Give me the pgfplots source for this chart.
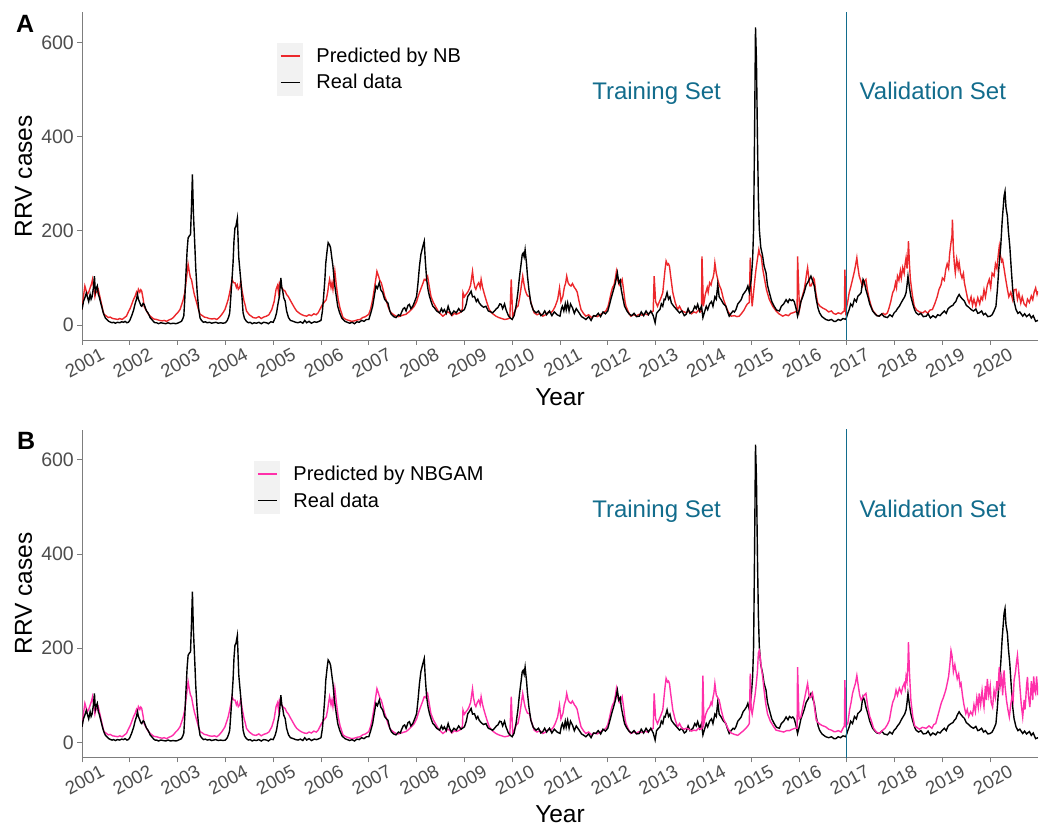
\documentclass[border=0pt]{standalone}
\usepackage{fontspec}
\setmainfont{Liberation Sans}
\usepackage{pgfplots}
\usepackage{pgfplotstable}
\pgfplotsset{compat=1.18}
\definecolor{nbred}{RGB}{236,40,44}
\definecolor{nbpink}{RGB}{255,48,170}
\definecolor{setcol}{RGB}{18,108,140}
\definecolor{axisgray}{RGB}{125,125,125}
\definecolor{ticktext}{RGB}{77,77,77}
\definecolor{keygray}{RGB}{242,242,242}

\pgfplotstableread{
x y
2001.00 33
2001.03 50
2001.06 58
2001.09 68
2001.11 61
2001.14 50
2001.17 65
2001.19 55
2001.21 60
2001.24 80
2001.26 104
2001.28 70
2001.30 78
2001.32 83
2001.34 66
2001.36 60
2001.39 48
2001.41 40
2001.44 28
2001.46 22
2001.49 15
2001.52 12
2001.56 8
2001.60 6
2001.63 5
2001.66 6
2001.70 4
2001.74 6
2001.79 5
2001.83 7
2001.87 6
2001.90 8
2001.94 5
2001.97 6
2002.00 10
2002.04 20
2002.08 32
2002.11 45
2002.14 55
2002.16 65
2002.18 55
2002.20 50
2002.23 42
2002.25 40
2002.28 46
2002.30 44
2002.33 35
2002.35 30
2002.38 26
2002.40 22
2002.43 15
2002.46 12
2002.50 7
2002.53 5
2002.56 5
2002.60 3
2002.65 5
2002.70 4
2002.75 3
2002.80 5
2002.85 3
2002.91 4
2002.96 3
2003.00 4
2003.04 6
2003.08 8
2003.11 14
2003.13 20
2003.15 55
2003.17 100
2003.20 160
2003.22 185
2003.25 190
2003.27 192
2003.29 250
2003.31 320
2003.33 240
2003.36 170
2003.38 120
2003.41 69
2003.44 35
2003.47 15
2003.50 10
2003.54 6
2003.58 7
2003.62 5
2003.67 6
2003.71 4
2003.75 5
2003.80 6
2003.85 4
2003.90 5
2003.95 4
2004.00 5
2004.04 10
2004.07 18
2004.09 26
2004.12 70
2004.14 100
2004.16 132
2004.18 180
2004.20 206
2004.22 210
2004.25 227
2004.27 170
2004.28 143
2004.30 120
2004.32 97
2004.35 55
2004.37 26
2004.40 14
2004.44 8
2004.48 5
2004.52 6
2004.56 3
2004.60 5
2004.65 4
2004.70 6
2004.75 3
2004.80 6
2004.86 5
2004.90 3
2004.95 7
2005.00 6
2005.04 15
2005.07 26
2005.10 45
2005.13 61
2005.16 100
2005.18 80
2005.20 72
2005.22 58
2005.25 51
2005.28 30
2005.32 16
2005.36 10
2005.42 8
2005.47 6
2005.52 5
2005.57 7
2005.62 4
2005.66 10
2005.70 5
2005.75 8
2005.80 4
2005.86 7
2005.91 6
2005.96 8
2006.00 10
2006.03 30
2006.05 54
2006.08 95
2006.10 132
2006.13 160
2006.15 175
2006.18 170
2006.20 164
2006.23 140
2006.25 125
2006.28 90
2006.32 61
2006.35 40
2006.39 26
2006.44 14
2006.50 8
2006.55 6
2006.60 4
2006.65 6
2006.70 3
2006.75 7
2006.80 6
2006.85 10
2006.90 8
2006.95 12
2007.00 12
2007.04 25
2007.08 40
2007.12 65
2007.15 83
2007.18 78
2007.22 90
2007.25 75
2007.29 69
2007.33 55
2007.37 50
2007.40 47
2007.44 30
2007.47 23
2007.52 18
2007.57 16
2007.62 22
2007.66 20
2007.68 26
2007.72 35
2007.75 37
2007.78 30
2007.82 42
2007.85 44
2007.88 35
2007.92 40
2007.96 50
2008.00 61
2008.03 90
2008.06 125
2008.09 150
2008.13 167
2008.16 178
2008.18 140
2008.21 97
2008.24 75
2008.27 61
2008.31 48
2008.34 40
2008.37 37
2008.42 30
2008.48 26
2008.52 35
2008.55 28
2008.58 33
2008.62 25
2008.66 40
2008.69 30
2008.73 22
2008.78 30
2008.83 26
2008.88 35
2008.93 28
2009.00 33
2009.04 45
2009.07 61
2009.10 65
2009.14 72
2009.17 60
2009.21 61
2009.25 50
2009.28 55
2009.31 47
2009.35 42
2009.40 38
2009.45 40
2009.50 30
2009.55 28
2009.59 26
2009.63 30
2009.67 35
2009.70 37
2009.74 45
2009.77 44
2009.80 35
2009.84 45
2009.87 33
2009.92 20
2009.96 15
2010.00 12
2010.04 20
2010.08 40
2010.12 70
2010.15 100
2010.18 125
2010.21 150
2010.23 153
2010.25 145
2010.27 160
2010.30 130
2010.32 104
2010.35 75
2010.39 47
2010.44 32
2010.50 26
2010.55 30
2010.60 20
2010.64 23
2010.68 30
2010.72 22
2010.78 30
2010.83 20
2010.88 28
2010.94 22
2011.00 19
2011.03 35
2011.05 40
2011.08 30
2011.11 45
2011.13 32
2011.16 47
2011.19 30
2011.22 45
2011.26 37
2011.30 25
2011.34 35
2011.40 26
2011.45 18
2011.50 15
2011.54 12
2011.60 18
2011.65 10
2011.70 20
2011.75 19
2011.80 25
2011.85 18
2011.90 28
2011.95 24
2012.00 30
2012.04 45
2012.08 61
2012.12 75
2012.16 90
2012.20 111
2012.23 90
2012.26 95
2012.28 76
2012.31 60
2012.35 40
2012.40 30
2012.45 23
2012.50 20
2012.55 25
2012.60 18
2012.66 19
2012.70 28
2012.75 20
2012.80 30
2012.85 22
2012.90 30
2012.95 20
2012.99 5
2013.02 25
2013.06 30
2013.09 33
2013.12 45
2013.15 40
2013.18 55
2013.20 54
2013.24 69
2013.27 55
2013.30 60
2013.33 47
2013.38 40
2013.44 33
2013.50 26
2013.55 30
2013.60 20
2013.64 23
2013.68 35
2013.72 25
2013.78 30
2013.82 40
2013.85 35
2013.88 44
2013.92 30
2013.96 40
2013.99 16
2014.03 30
2014.06 40
2014.09 33
2014.13 45
2014.17 50
2014.20 40
2014.24 60
2014.27 55
2014.30 86
2014.33 60
2014.37 54
2014.42 45
2014.47 40
2014.50 30
2014.54 19
2014.58 25
2014.62 30
2014.65 28
2014.68 33
2014.72 45
2014.76 50
2014.79 54
2014.83 65
2014.86 69
2014.90 75
2014.93 83
2014.96 70
2015.00 97
2015.03 140
2015.05 203
2015.07 400
2015.09 632
2015.11 560
2015.13 400
2015.15 270
2015.17 203
2015.20 165
2015.24 146
2015.27 125
2015.31 111
2015.34 85
2015.38 69
2015.43 50
2015.48 40
2015.53 32
2015.59 30
2015.63 40
2015.68 45
2015.73 54
2015.77 48
2015.80 55
2015.84 52
2015.87 54
2015.90 50
2015.94 35
2015.97 19
2016.01 35
2016.04 50
2016.08 61
2016.11 70
2016.15 85
2016.18 90
2016.22 98
2016.25 104
2016.28 95
2016.32 83
2016.36 55
2016.40 35
2016.43 26
2016.48 18
2016.52 15
2016.56 12
2016.62 10
2016.68 12
2016.73 8
2016.77 8
2016.82 12
2016.87 10
2016.92 14
2016.98 12
2017.02 25
2017.05 33
2017.08 45
2017.12 40
2017.16 55
2017.20 50
2017.23 61
2017.27 65
2017.30 69
2017.32 85
2017.34 97
2017.37 90
2017.40 75
2017.44 61
2017.48 45
2017.54 30
2017.58 25
2017.63 20
2017.68 19
2017.73 24
2017.78 18
2017.85 16
2017.90 22
2017.95 18
2017.99 26
2018.03 30
2018.06 35
2018.10 40
2018.14 48
2018.18 55
2018.21 60
2018.24 69
2018.26 85
2018.28 104
2018.31 80
2018.34 61
2018.38 45
2018.42 32
2018.45 26
2018.50 22
2018.55 25
2018.60 18
2018.66 19
2018.70 24
2018.75 15
2018.80 20
2018.86 16
2018.90 22
2018.95 20
2019.00 26
2019.04 30
2019.08 25
2019.12 35
2019.14 37
2019.18 40
2019.22 42
2019.25 47
2019.28 50
2019.31 58
2019.35 65
2019.38 60
2019.42 55
2019.46 51
2019.50 42
2019.55 38
2019.60 33
2019.65 30
2019.70 34
2019.74 25
2019.77 26
2019.82 30
2019.86 22
2019.90 25
2019.95 18
2020.00 19
2020.04 22
2020.08 30
2020.12 40
2020.15 75
2020.18 120
2020.22 167
2020.25 220
2020.29 274
2020.31 284
2020.33 250
2020.36 231
2020.38 200
2020.41 167
2020.44 120
2020.47 76
2020.50 50
2020.54 33
2020.58 25
2020.62 28
2020.68 19
2020.72 24
2020.76 18
2020.82 23
2020.86 15
2020.90 20
2020.95 8
2021.00 10
}\realdata

\pgfplotstableread{
x y
2001.00 33
2001.03 60
2001.06 83
2001.09 72
2001.11 65
2001.14 70
2001.17 79
2001.20 88
2001.22 97
2001.25 75
2001.27 61
2001.29 72
2001.31 70
2001.34 76
2001.37 62
2001.41 44
2001.44 30
2001.46 23
2001.50 20
2001.55 16
2001.59 17
2001.64 14
2001.70 13
2001.75 12
2001.79 14
2001.84 12
2001.89 16
2001.93 19
2001.97 28
2002.01 36
2002.04 44
2002.08 55
2002.11 61
2002.14 70
2002.16 65
2002.18 76
2002.21 70
2002.23 75
2002.25 72
2002.28 55
2002.30 40
2002.34 32
2002.39 23
2002.44 18
2002.50 13
2002.56 12
2002.62 10
2002.68 9
2002.72 10
2002.77 8
2002.82 11
2002.87 13
2002.91 16
2002.96 22
2003.00 26
2003.05 33
2003.09 45
2003.12 55
2003.15 69
2003.18 95
2003.22 129
2003.25 110
2003.27 100
2003.29 97
2003.32 80
2003.35 65
2003.40 47
2003.44 32
2003.47 23
2003.52 20
2003.56 17
2003.61 16
2003.66 14
2003.72 13
2003.77 14
2003.82 12
2003.87 16
2003.92 22
2003.96 28
2003.99 33
2004.03 45
2004.06 55
2004.09 69
2004.12 85
2004.14 97
2004.17 90
2004.20 90
2004.23 80
2004.25 85
2004.27 76
2004.30 80
2004.32 93
2004.35 72
2004.39 51
2004.42 40
2004.44 30
2004.50 22
2004.58 16
2004.64 15
2004.70 18
2004.75 14
2004.80 17
2004.86 19
2004.91 22
2004.97 33
2005.02 50
2005.06 76
2005.09 84
2005.11 70
2005.13 90
2005.16 85
2005.18 79
2005.21 75
2005.25 72
2005.28 65
2005.32 60
2005.35 54
2005.40 45
2005.45 36
2005.49 30
2005.55 25
2005.60 22
2005.65 20
2005.70 19
2005.75 22
2005.80 20
2005.85 24
2005.90 22
2005.94 26
2006.01 40
2006.04 45
2006.08 50
2006.11 54
2006.14 70
2006.16 85
2006.18 97
2006.21 80
2006.23 90
2006.25 76
2006.27 95
2006.29 114
2006.32 85
2006.36 54
2006.40 35
2006.46 16
2006.52 12
2006.58 10
2006.64 8
2006.70 9
2006.76 11
2006.82 12
2006.87 16
2006.93 18
2007.00 23
2007.04 35
2007.08 54
2007.12 80
2007.15 100
2007.17 114
2007.20 105
2007.23 95
2007.26 90
2007.30 75
2007.33 62
2007.36 54
2007.40 40
2007.44 30
2007.47 26
2007.52 22
2007.57 19
2007.62 18
2007.68 20
2007.74 22
2007.78 23
2007.84 28
2007.90 34
2007.95 40
2008.00 50
2008.03 60
2008.06 69
2008.10 80
2008.13 88
2008.16 97
2008.19 95
2008.21 100
2008.23 104
2008.26 85
2008.30 61
2008.35 48
2008.41 37
2008.46 28
2008.50 24
2008.55 19
2008.60 23
2008.65 28
2008.69 26
2008.74 20
2008.79 25
2008.83 23
2008.88 25
2008.93 28
2008.96 35
2008.97 69
2009.00 60
2009.04 66
2009.07 70
2009.10 76
2009.13 85
2009.15 100
2009.17 114
2009.19 95
2009.22 80
2009.24 76
2009.27 85
2009.30 90
2009.33 80
2009.35 97
2009.38 80
2009.42 65
2009.47 48
2009.52 33
2009.58 25
2009.66 19
2009.72 16
2009.78 14
2009.84 12
2009.90 13
2009.95 15
2009.98 97
2010.01 19
2010.05 28
2010.09 38
2010.12 40
2010.15 55
2010.18 75
2010.20 90
2010.22 104
2010.25 85
2010.27 75
2010.29 69
2010.32 62
2010.36 61
2010.40 45
2010.46 26
2010.52 22
2010.58 25
2010.64 19
2010.70 22
2010.76 28
2010.81 26
2010.86 32
2010.90 40
2010.95 54
2010.99 79
2011.02 50
2011.06 61
2011.09 80
2011.12 90
2011.14 104
2011.17 90
2011.20 85
2011.23 83
2011.26 88
2011.30 80
2011.33 76
2011.36 70
2011.40 50
2011.44 33
2011.49 25
2011.54 19
2011.60 22
2011.66 16
2011.72 20
2011.78 18
2011.84 22
2011.90 26
2011.96 30
2012.00 38
2012.03 50
2012.07 69
2012.10 80
2012.13 85
2012.16 100
2012.18 114
2012.21 95
2012.24 85
2012.27 90
2012.30 97
2012.33 75
2012.36 50
2012.38 40
2012.43 28
2012.48 19
2012.54 22
2012.60 20
2012.66 23
2012.72 21
2012.78 24
2012.83 22
2012.87 26
2012.92 28
2012.95 30
2012.97 104
2013.00 50
2013.04 40
2013.08 50
2013.12 60
2013.15 69
2013.18 100
2013.20 120
2013.22 136
2013.25 128
2013.27 130
2013.29 125
2013.32 100
2013.36 69
2013.41 48
2013.46 33
2013.50 40
2013.55 30
2013.60 28
2013.64 26
2013.70 30
2013.75 24
2013.80 28
2013.85 26
2013.90 32
2013.94 28
2013.96 30
2013.97 146
2014.00 40
2014.04 65
2014.08 80
2014.10 70
2014.13 90
2014.16 85
2014.18 95
2014.20 100
2014.22 110
2014.24 132
2014.27 110
2014.30 97
2014.33 85
2014.37 76
2014.42 55
2014.47 40
2014.52 28
2014.58 19
2014.65 20
2014.70 18
2014.75 19
2014.80 25
2014.85 32
2014.89 40
2014.92 45
2014.96 48
2014.98 143
2015.00 70
2015.02 40
2015.05 70
2015.08 100
2015.10 118
2015.13 140
2015.16 160
2015.18 150
2015.21 146
2015.24 120
2015.28 97
2015.32 75
2015.38 54
2015.45 40
2015.52 30
2015.58 24
2015.66 19
2015.72 22
2015.78 20
2015.83 25
2015.87 26
2015.92 28
2015.96 30
2015.97 146
2016.01 33
2016.04 50
2016.08 65
2016.11 76
2016.14 95
2016.16 110
2016.18 122
2016.21 95
2016.23 83
2016.25 83
2016.28 90
2016.30 100
2016.32 97
2016.35 70
2016.39 47
2016.44 40
2016.50 36
2016.56 33
2016.62 28
2016.68 30
2016.72 25
2016.77 23
2016.82 26
2016.88 24
2016.92 28
2016.95 30
2016.96 118
2016.98 30
2017.02 50
2017.05 69
2017.08 80
2017.12 97
2017.15 110
2017.18 125
2017.21 143
2017.23 125
2017.26 104
2017.29 95
2017.31 88
2017.33 83
2017.36 92
2017.40 97
2017.43 75
2017.47 55
2017.51 40
2017.55 30
2017.60 24
2017.64 20
2017.68 19
2017.72 22
2017.76 25
2017.80 22
2017.85 26
2017.88 35
2017.92 50
2017.96 69
2017.99 75
2018.02 90
2018.04 80
2018.06 104
2018.09 95
2018.12 115
2018.14 100
2018.17 122
2018.20 110
2018.22 130
2018.24 143
2018.26 120
2018.28 150
2018.29 178
2018.31 130
2018.33 97
2018.37 65
2018.41 40
2018.46 32
2018.52 28
2018.59 26
2018.64 30
2018.69 25
2018.74 32
2018.79 33
2018.84 45
2018.89 60
2018.93 76
2018.97 85
2019.00 100
2019.04 95
2019.07 118
2019.10 130
2019.13 120
2019.15 150
2019.18 175
2019.20 190
2019.21 224
2019.23 160
2019.25 130
2019.27 111
2019.30 140
2019.33 120
2019.35 132
2019.38 110
2019.41 100
2019.44 110
2019.46 90
2019.50 70
2019.53 55
2019.56 47
2019.60 60
2019.63 42
2019.66 55
2019.70 40
2019.74 58
2019.78 45
2019.81 60
2019.84 54
2019.87 75
2019.90 60
2019.94 85
2019.98 97
2020.01 80
2020.04 110
2020.08 104
2020.11 130
2020.14 120
2020.17 150
2020.19 167
2020.21 150
2020.24 135
2020.26 139
2020.29 120
2020.32 100
2020.36 76
2020.39 60
2020.43 70
2020.47 54
2020.50 75
2020.54 76
2020.57 55
2020.60 68
2020.64 47
2020.67 60
2020.71 45
2020.75 40
2020.78 55
2020.82 48
2020.86 62
2020.89 54
2020.92 70
2020.95 79
2020.98 65
2021.00 72
}\nbdata

\pgfplotstableread{
x y
2013.46 33
2013.50 40
2013.55 30
2013.60 28
2013.64 30
2013.70 28
2013.75 24
2013.80 26
2013.85 25
2013.90 30
2013.94 28
2013.97 30
2013.99 142
2014.01 40
2014.05 60
2014.09 70
2014.13 75
2014.16 85
2014.18 80
2014.20 95
2014.22 105
2014.24 125
2014.27 100
2014.30 95
2014.33 90
2014.37 70
2014.42 50
2014.47 40
2014.52 28
2014.58 20
2014.65 17
2014.72 15
2014.78 20
2014.84 25
2014.89 30
2014.93 35
2014.96 40
2014.98 146
2015.00 70
2015.02 60
2015.05 80
2015.08 100
2015.10 118
2015.13 150
2015.15 190
2015.17 195
2015.19 180
2015.21 160
2015.24 139
2015.27 110
2015.30 85
2015.34 61
2015.40 45
2015.46 35
2015.52 26
2015.60 24
2015.68 22
2015.74 25
2015.80 25
2015.86 28
2015.92 30
2015.96 30
2015.97 160
2016.00 50
2016.04 54
2016.08 75
2016.11 90
2016.14 105
2016.16 115
2016.18 125
2016.21 100
2016.23 95
2016.25 97
2016.28 105
2016.30 95
2016.33 70
2016.36 47
2016.42 40
2016.48 36
2016.56 33
2016.62 28
2016.68 26
2016.73 23
2016.77 23
2016.82 25
2016.88 22
2016.92 30
2016.95 35
2016.96 132
2016.98 35
2017.02 40
2017.06 70
2017.09 85
2017.12 104
2017.15 115
2017.18 125
2017.21 142
2017.24 120
2017.27 100
2017.30 90
2017.33 95
2017.36 100
2017.40 104
2017.44 75
2017.48 55
2017.51 47
2017.56 30
2017.62 22
2017.68 19
2017.74 25
2017.80 30
2017.85 38
2017.89 47
2017.93 70
2017.96 85
2018.00 95
2018.03 111
2018.06 100
2018.10 115
2018.14 105
2018.17 118
2018.20 125
2018.22 115
2018.24 140
2018.26 130
2018.28 170
2018.29 213
2018.31 150
2018.34 90
2018.38 55
2018.42 35
2018.45 33
2018.52 28
2018.58 32
2018.66 30
2018.72 35
2018.78 30
2018.82 38
2018.86 40
2018.90 55
2018.94 70
2018.98 85
2019.02 95
2019.07 111
2019.10 125
2019.13 140
2019.16 170
2019.18 195
2019.20 185
2019.23 150
2019.26 165
2019.28 153
2019.31 135
2019.34 145
2019.37 120
2019.39 125
2019.42 100
2019.45 80
2019.49 61
2019.52 70
2019.55 55
2019.59 65
2019.63 58
2019.66 80
2019.69 65
2019.72 95
2019.75 75
2019.77 104
2019.80 80
2019.83 110
2019.85 90
2019.87 75
2019.90 120
2019.92 90
2019.94 135
2019.97 100
2020.00 120
2020.02 85
2020.05 75
2020.08 110
2020.11 95
2020.14 130
2020.16 110
2020.19 160
2020.21 120
2020.24 140
2020.26 100
2020.29 153
2020.31 120
2020.34 90
2020.37 70
2020.40 54
2020.43 80
2020.46 100
2020.48 90
2020.50 132
2020.53 150
2020.55 170
2020.57 185
2020.59 160
2020.62 120
2020.65 80
2020.68 54
2020.71 90
2020.73 70
2020.76 120
2020.78 139
2020.80 100
2020.83 75
2020.86 130
2020.89 90
2020.91 140
2020.93 110
2020.95 104
2020.97 140
2021.00 100
}\pinkdata

\pgfplotsset{rrv/.style={
  scale only axis, width=956bp, height=327.5bp,
  xmin=2001, xmax=2021, ymin=-31.6, ymax=663.6,
  axis lines=left,
  axis line style={-, draw=axisgray, line width=0.9bp},
  every axis plot/.append style={line width=1.4bp},
  xtick={2001,2002,2003,2004,2005,2006,2007,2008,2009,2010,2011,2012,2013,2014,2015,2016,2017,2018,2019,2020},
  xticklabels={2001,2002,2003,2004,2005,2006,2007,2008,2009,2010,2011,2012,2013,2014,2015,2016,2017,2018,2019,2020},
  ytick={0,200,400,600},
  yticklabels={0,200,400,600},
  tick align=outside,
  major tick length=5bp,
  tick style={draw=axisgray, line width=0.9bp},
  xticklabel style={font=\fontsize{18.5bp}{21bp}\selectfont, text=ticktext, rotate=28, anchor=center, yshift=-17bp, xshift=-6bp},
  yticklabel style={font=\fontsize{19.5bp}{22bp}\selectfont, text=ticktext, anchor=east, inner sep=0pt, xshift=-3bp},
  xlabel={Year},
  xlabel style={font=\fontsize{24.5bp}{28bp}\selectfont, at={(axis description cs:0.5,-0.2000)}, anchor=base},
  ylabel={RRV cases},
  ylabel style={font=\fontsize{24.5bp}{28bp}\selectfont, at={(axis description cs:-0.0523,0.5)}, anchor=base},
  legend cell align=left,
  legend style={draw=none, fill=none, font=\fontsize{20bp}{24bp}\selectfont,
    inner sep=0pt, outer sep=0pt, row sep=0pt, column sep=13bp,
    nodes={inner sep=0pt}},
  legend image code/.code={
    \fill[keygray] (0bp,-12.5bp) rectangle (25bp,12.5bp);
    \draw[#1, line width=1.5bp] (3bp,0bp) -- (22bp,0bp);
  },
}}

\begin{document}
\begin{tikzpicture}
\useasboundingbox (0,0) rectangle (1043bp,826bp);
\begin{axis}[rrv, at={(82bp,486bp)}, anchor=south west,
  legend style={at={(axis description cs:0.204,0.9075)}, anchor=north west}]
\addplot[color=nbred] table[x=x,y=y]{\nbdata};
\addlegendentry{Predicted by NB}
\addplot[color=black] table[x=x,y=y]{\realdata};
\addlegendentry{Real data}
\addplot[color=setcol, line width=1.1bp, forget plot] coordinates {(2017,-100) (2017,800)};
\node[font=\fontsize{24bp}{28bp}\selectfont, text=setcol, anchor=base] at (axis cs:2013.02,478) {Training Set};
\node[font=\fontsize{24bp}{28bp}\selectfont, text=setcol, anchor=base] at (axis cs:2018.8,478) {Validation Set};
\end{axis}

\begin{axis}[rrv, at={(82bp,68.7bp)}, anchor=south west,
  legend style={at={(axis description cs:0.180,0.905)}, anchor=north west}]
\addplot[color=nbpink, restrict x to domain=2001:2013.47] table[x=x,y=y]{\nbdata};
\addlegendentry{Predicted by NBGAM}
\addplot[color=black] table[x=x,y=y]{\realdata};
\addlegendentry{Real data}
\addplot[color=nbpink, forget plot] table[x=x,y=y]{\pinkdata};
\addplot[color=setcol, line width=1.1bp, forget plot] coordinates {(2017,-100) (2017,800)};
\node[font=\fontsize{24bp}{28bp}\selectfont, text=setcol, anchor=base] at (axis cs:2013.02,478) {Training Set};
\node[font=\fontsize{24bp}{28bp}\selectfont, text=setcol, anchor=base] at (axis cs:2018.8,478) {Validation Set};
\end{axis}

\node[font=\fontsize{25bp}{28bp}\selectfont\bfseries, anchor=base west, inner sep=0pt] at (16bp,793bp) {A};
\node[font=\fontsize{25bp}{28bp}\selectfont\bfseries, anchor=base west, inner sep=0pt] at (17bp,376bp) {B};
\end{tikzpicture}
\end{document}
